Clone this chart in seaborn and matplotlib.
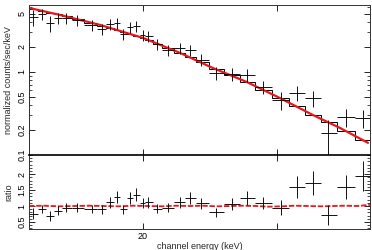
import numpy as np
import pandas as pd
import seaborn as sns
import matplotlib
matplotlib.use("Agg")
import matplotlib.pyplot as plt
from matplotlib.ticker import FixedLocator, NullFormatter, MultipleLocator

# bin edges (keV) of the grouped spectrum
edges = [14.15, 14.52, 14.89, 15.26, 15.64, 16.10, 16.74, 17.39, 17.87, 18.29,
         18.68, 19.05, 19.40, 19.79, 20.15, 20.59, 21.22, 21.97, 22.72, 23.46,
         24.41, 25.58, 26.82, 28.11, 29.60, 31.17, 32.72, 34.30, 36.06, 38.02, 39.86]
energy = [14.31, 14.71, 15.08, 15.45, 15.83, 16.36, 17.13, 17.66, 18.09, 18.48,
          18.85, 19.23, 19.58, 20.00, 20.31, 20.87, 21.58, 22.38, 23.07, 23.85,
          24.97, 26.21, 27.43, 28.79, 30.41, 31.93, 33.52, 35.08, 37.06, 39.02]
counts = [4.60, 5.00, 3.89, 4.47, 4.47, 4.23, 3.68, 3.30, 3.79, 3.89,
          2.85, 3.49, 3.58, 2.79, 2.72, 2.17, 1.84, 1.95, 1.84, 1.40,
          0.973, 0.948, 0.922, 0.66, 0.46, 0.558, 0.486, 0.184, 0.287, 0.279]
err_frac = [0.22, 0.15, 0.22, 0.16, 0.15, 0.15, 0.15, 0.15, 0.15, 0.15,
            0.16, 0.15, 0.15, 0.15, 0.15, 0.16, 0.15, 0.15, 0.15, 0.16,
            0.17, 0.17, 0.17, 0.17, 0.25, 0.21, 0.22, 0.45, 0.24, 0.24]
model = [5.74, 5.43, 5.18, 4.93, 4.66, 4.35, 3.89, 3.62, 3.39, 3.21,
         3.02, 2.87, 2.71, 2.57, 2.43, 2.20, 1.95, 1.69, 1.50, 1.30,
         1.09, 0.907, 0.758, 0.607, 0.480, 0.384, 0.303, 0.250, 0.195, 0.152]
ratio = [0.76, 0.91, 0.70, 0.86, 0.94, 0.94, 0.91, 0.90, 1.12, 1.27,
         0.90, 1.24, 1.36, 1.09, 1.12, 0.92, 0.94, 1.12, 1.24, 1.09,
         0.80, 1.06, 1.26, 1.11, 0.94, 1.60, 1.72, 0.72, 1.60, 1.95]

# unfolded (fine) model, red
fine_e = [14.15, 15.54, 17.56, 20.0, 22.4, 24.7, 27.4, 30.3, 33.5, 36.4, 39.6]
fine_m = [5.9, 4.86, 3.68, 2.57, 1.69, 1.12, 0.758, 0.486, 0.303, 0.211, 0.140]
fine_re = [14.15, 14.8, 15.5, 16.2, 17.0, 17.8, 18.6, 19.4, 20.3, 21.2, 22.1,
           23.0, 24.0, 25.0, 26.0, 27.1, 28.2, 29.3, 30.5, 31.7, 33.0, 34.3,
           35.6, 37.0, 38.4, 39.86]
fine_r = [1.00, 1.01, 0.99, 1.00, 1.01, 1.00, 0.99, 1.01, 1.00, 0.99, 1.01,
          1.00, 1.01, 0.99, 1.00, 1.01, 1.00, 0.98, 0.99, 1.01, 1.00, 0.99,
          1.00, 1.01, 1.00, 1.04]

sns.set_style("ticks")
plt.rcParams['font.family'] = ['Liberation Sans', 'DejaVu Sans']

fig = plt.figure(figsize=(3.72, 2.5), dpi=100)
ax1 = fig.add_axes([0.078, 0.38, 0.917, 0.60])
ax2 = fig.add_axes([0.078, 0.084, 0.917, 0.296], sharex=ax1)

e = np.array(energy)
ed = np.array(edges)
xerr = [e - ed[:-1], ed[1:] - e]
c = np.array(counts)
fr = np.array(err_frac)
r = np.array(ratio)

# top panel
sns.lineplot(x=fine_e, y=fine_m, ax=ax1, color='#e8161b', lw=1.6)
ax1.stairs(model, edges, color='black', lw=0.7)
ax1.errorbar(e, c, xerr=xerr, yerr=c * fr, fmt='none', ecolor='#111111', elinewidth=0.7)
ax1.set_yscale('log')
ax1.set_ylim(0.1, 6.4)
ax1.set_yticks([0.1, 0.2, 0.5, 1, 2, 5])
ax1.set_yticklabels(['0.1', '0.2', '0.5', '1', '2', '5'])
ax1.yaxis.set_minor_locator(FixedLocator([0.3, 0.4, 0.6, 0.7, 0.8, 0.9, 3, 4, 6]))
ax1.yaxis.set_minor_formatter(NullFormatter())
ax1.set_ylabel('normalized counts/sec/keV', fontsize=6.5, labelpad=3)
plt.setp(ax1.get_xticklabels(), visible=False)

# ratio panel
sns.lineplot(x=fine_re, y=fine_r, ax=ax2, color='#e8161b', lw=1.3, linestyle=(0, (3, 1)))
ax2.errorbar(e, r, xerr=xerr, yerr=r * fr, fmt='none', ecolor='#111111', elinewidth=0.7)
ax2.set_ylim(0.28, 2.6)
ax2.set_yticks([0.5, 1, 1.5, 2])
ax2.set_yticklabels(['0.5', '1', '1.5', '2'])
ax2.yaxis.set_minor_locator(MultipleLocator(0.1))
ax2.set_ylabel('ratio', fontsize=6.5, labelpad=3)

ax2.set_xscale('log')
ax2.set_xlim(14.15, 39.86)
ax2.set_xticks([20, 30])
ax2.set_xticklabels(['20', ''])
ax2.xaxis.set_minor_locator(FixedLocator([]))
ax2.xaxis.set_minor_formatter(NullFormatter())
ax2.set_xlabel('channel energy (keV)', fontsize=6.5)
ax2.xaxis.set_label_coords(0.5, -0.17)

for ax in (ax1, ax2):
    ax.tick_params(which='both', direction='in', top=True, right=True,
                   labelsize=6.5, colors='black', pad=2)
    ax.tick_params(which='major', length=4, width=0.6)
    ax.tick_params(which='minor', length=2, width=0.5)
    for lab in ax.get_yticklabels():
        lab.set_rotation(90)
        lab.set_va('center')
    for s in ax.spines.values():
        s.set_linewidth(0.7)
        s.set_color('#333333')
ax2.spines['top'].set_linewidth(1.2)
ax2.spines['top'].set_color('black')

fig.savefig('out.png', dpi=100)
